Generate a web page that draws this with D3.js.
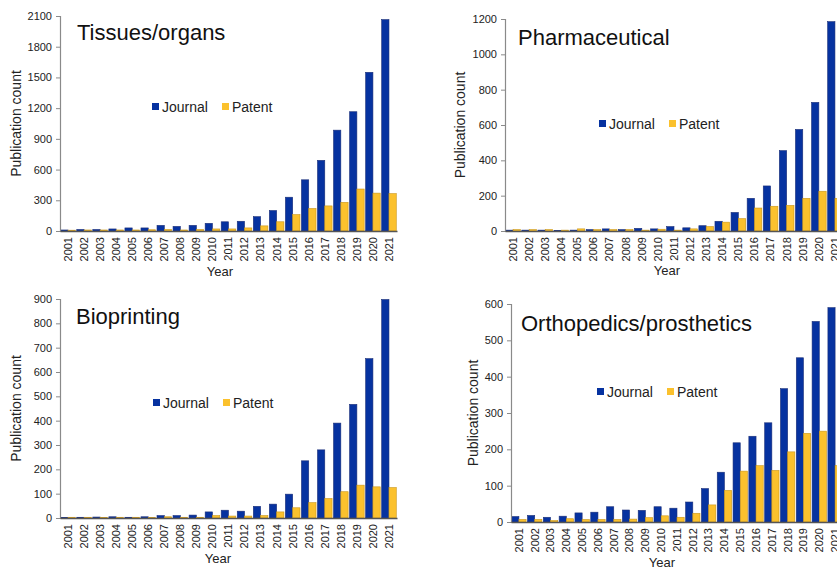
<!DOCTYPE html>
<html><head><meta charset="utf-8">
<script src="https://cdn.jsdelivr.net/npm/d3@7"></script>
<style>body{margin:0;background:#fff;overflow:hidden}svg{display:block}</style>
</head><body>
<svg id="c" width="837" height="569"></svg>
<script>
const years = ["2001","2002","2003","2004","2005","2006","2007","2008","2009","2010","2011","2012","2013","2014","2015","2016","2017","2018","2019","2020","2021"];
const seriesNames = ["Journal","Patent"];

const tissuesJournal = [10,15,15,20,30,30,55,45,55,75,90,95,140,200,330,500,690,985,1165,1550,2065];
const tissuesPatent  = [8,10,10,10,10,12,15,10,15,20,20,30,50,90,160,220,245,280,410,370,365];
const tissuesTicks = [0,300,600,900,1200,1500,1800,2100];

const pharmaJournal = [5,5,5,3,5,8,12,8,15,12,25,18,30,55,105,185,255,455,575,728,1185];
const pharmaPatent  = [8,8,8,5,12,8,8,8,5,10,5,12,25,50,70,130,140,145,185,225,185];
const pharmaTicks = [0,200,400,600,800,1000,1200];

const bioJournal = [2,3,4,5,3,5,10,10,12,25,32,28,48,57,98,235,280,390,467,655,898];
const bioPatent  = [3,3,2,3,3,2,5,3,3,10,8,8,10,25,42,63,80,108,135,128,125];
const bioTicks = [0,100,200,300,400,500,600,700,800,900];

const orthoJournal = [15,18,13,16,25,27,42,33,32,42,38,55,92,137,218,236,273,367,452,552,590];
const orthoPatent  = [7,7,4,9,7,7,7,8,12,17,13,24,47,87,140,155,142,193,244,250,155];
const orthoTicks = [0,100,200,300,400,500,600];

const titles = ["Tissues/organs","Pharmaceutical","Bioprinting","Orthopedics/prosthetics"];

const colors = {Journal:"#0632a0", Patent:"#fbc12d"};
const strokes = {Journal:"#1b2f78", Patent:"#c9961c"};

// layout (positions only)
const panels = [
  {title:titles[0], j:tissuesJournal, p:tissuesPatent, ticks:tissuesTicks, x0:60, x1:397, yb:231, yt:16, ytx:16, yearY:276, yearX:220, titleX:77, titleY:40, legX:152, legY:107},
  {title:titles[1], j:pharmaJournal, p:pharmaPatent, ticks:pharmaTicks, x0:505, x1:843, yb:231, yt:19, ytx:460, yearY:275, yearX:667, titleX:518, titleY:45, legX:599, legY:124},
  {title:titles[2], j:bioJournal, p:bioPatent, ticks:bioTicks, x0:60, x1:397, yb:518, yt:299, ytx:16, yearY:563, yearX:218, titleX:76, titleY:324, legX:153, legY:403},
  {title:titles[3], j:orthoJournal, p:orthoPatent, ticks:orthoTicks, x0:511, x1:843, yb:522, yt:304, ytx:473, yearY:567, yearX:662, titleX:521, titleY:331, legX:597, legY:392}
];

const svg = d3.select("#c");
const font = "'Liberation Sans', Arial, sans-serif";

panels.forEach(P => {
  const g = svg.append("g");
  const x = d3.scaleBand().domain(years).range([P.x0, P.x1]).paddingInner(0).paddingOuter(0);
  const xs = d3.scaleBand().domain(seriesNames).range([0, x.bandwidth()]).paddingInner(0).paddingOuter(0.1);
  const y = d3.scaleLinear().domain([0, d3.max(P.ticks)]).range([P.yb, P.yt]);

  // bars
  seriesNames.forEach((s, si) => {
    const vals = si === 0 ? P.j : P.p;
    g.selectAll(null).data(years).enter().append("rect")
      .attr("x", d => x(d) + xs(s))
      .attr("y", (d, i) => y(vals[i]))
      .attr("width", xs.bandwidth())
      .attr("height", (d, i) => P.yb - y(vals[i]))
      .attr("fill", colors[s])
      .attr("stroke", strokes[s])
      .attr("stroke-width", 0.6);
  });

  // y axis
  const ya = g.append("g").attr("transform", `translate(${P.x0},0)`)
    .call(d3.axisLeft(y).tickValues(P.ticks).tickSize(4).tickPadding(4).tickFormat(d3.format("d")));
  ya.select(".domain").attr("stroke", "#8a8a8a").attr("stroke-width", 1.2);
  ya.selectAll(".tick line").attr("stroke", "#8a8a8a");
  ya.selectAll("text").attr("font-family", font).attr("font-size", 11).attr("fill", "#222");

  // x axis
  const xa = g.append("g").attr("transform", `translate(0,${P.yb})`)
    .call(d3.axisBottom(x).tickSize(0).tickPadding(0));
  xa.select(".domain").attr("stroke", "#555").attr("stroke-width", 1.4);
  xa.selectAll(".tick text")
    .attr("font-family", font).attr("font-size", 11).attr("fill", "#222")
    .attr("transform", "rotate(-90)")
    .attr("text-anchor", "end")
    .attr("dy", "0.35em")
    .attr("x", -6).attr("y", 0);

  // axis titles
  g.append("text").attr("x", P.yearX).attr("y", P.yearY)
    .attr("text-anchor", "middle").attr("font-family", font).attr("font-size", 13).attr("fill", "#222")
    .text("Year");
  g.append("text")
    .attr("transform", `translate(${P.ytx},${(P.yb + P.yt) / 2}) rotate(-90)`)
    .attr("text-anchor", "middle").attr("dy", "0.35em")
    .attr("font-family", font).attr("font-size", 14).attr("fill", "#222")
    .text("Publication count");

  // title
  g.append("text").attr("x", P.titleX).attr("y", P.titleY)
    .attr("font-family", font).attr("font-size", 22).attr("fill", "#111")
    .text(P.title);

  // legend
  const lg = g.append("g").attr("transform", `translate(${P.legX},${P.legY})`);
  const offs = [0, 70];
  seriesNames.forEach((s, i) => {
    lg.append("rect").attr("x", offs[i]).attr("y", -4).attr("width", 7).attr("height", 7).attr("fill", colors[s]);
    lg.append("text").attr("x", offs[i] + 10).attr("y", 0).attr("dy", "0.35em")
      .attr("font-family", font).attr("font-size", 14).attr("fill", "#222").text(s);
  });
});
</script>
</body></html>
